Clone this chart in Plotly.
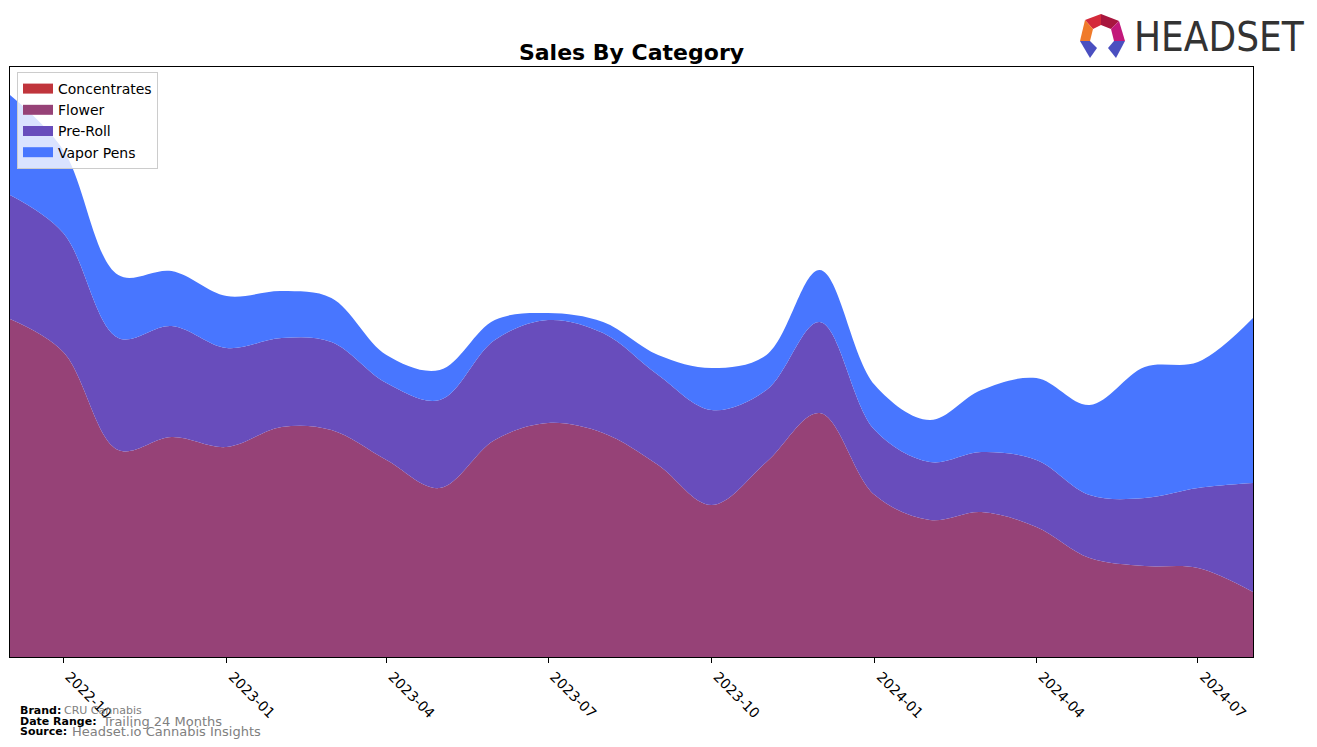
import plotly.graph_objects as go

months = ["2022-09-01", "2022-10-01", "2022-11-01", "2022-12-01", "2023-01-01", "2023-02-01",
          "2023-03-01", "2023-04-01", "2023-05-01", "2023-06-01", "2023-07-01", "2023-08-01",
          "2023-09-01", "2023-10-01", "2023-11-01", "2023-12-01", "2024-01-01", "2024-02-01",
          "2024-03-01", "2024-04-01", "2024-05-01", "2024-06-01", "2024-07-01", "2024-08-01"]

concentrates = [0] * 24
flower = [338, 305, 207, 220, 210, 230, 227, 197, 169, 217, 234, 224,
          192, 152, 195, 244, 162, 137, 145, 130, 99, 91, 89, 65]
pre_roll = [124, 119, 112, 111, 99, 89, 88, 77, 88, 100, 103, 100,
            90, 95, 72, 91, 65, 58, 60, 67, 63, 68, 80, 109]
vapor_pens = [100, 83, 63, 55, 52, 47, 44, 28, 30, 20, 7, 11,
              20, 42, 35, 52, 45, 42, 62, 82, 90, 131, 126, 165]

tick_vals = ["2022-10-01", "2023-01-01", "2023-04-01", "2023-07-01",
             "2023-10-01", "2024-01-01", "2024-04-01", "2024-07-01"]
tick_text = ["2022-10", "2023-01", "2023-04", "2023-07",
             "2023-10", "2024-01", "2024-04", "2024-07"]

series = [("Concentrates", concentrates, "#c0353c"),
          ("Flower", flower, "#964277"),
          ("Pre-Roll", pre_roll, "#684dbc"),
          ("Vapor Pens", vapor_pens, "#4876ff")]

W, H = 1317, 747
L, R, T, B = 10, 1253, 67, 657

fig = go.Figure()
for name, vals, col in series:
    fig.add_trace(go.Scatter(
        x=months, y=vals, name=name, mode="lines", stackgroup="one",
        line=dict(width=0, shape="spline", smoothing=1.0, color=col),
        fillcolor=col, showlegend=False, legendgroup=name,
        hoverinfo="x+y+name"))
# legend swatches
for name, vals, col in series:
    fig.add_trace(go.Scatter(
        x=[None], y=[None], name=name, mode="lines", legendgroup=name,
        line=dict(width=10, color=col), showlegend=True, hoverinfo="skip"))

totals = [a + b + c + d for a, b, c, d in zip(concentrates, flower, pre_roll, vapor_pens)]
ymax = max(totals) * 1.05


def px(x, y):
    return (x - L) / (R - L), (B - y) / (B - T)


fig.update_layout(
    width=W, height=H,
    margin=dict(l=L, r=W - R, t=T, b=H - B),
    paper_bgcolor="white", plot_bgcolor="white",
    font=dict(family="DejaVu Sans", color="black"),
    title=dict(text="<b>Sales By Category</b>", x=(L + R) / 2 / W, xanchor="center",
               y=1 - 52 / H, yanchor="middle", font=dict(size=22, family="DejaVu Sans")),
    showlegend=True,
    legend=dict(x=px(17, 0)[0], y=px(0, 72)[1], xanchor="left", yanchor="top",
                traceorder="normal", bgcolor="rgba(255,255,255,0.8)",
                bordercolor="#cccccc", borderwidth=1, font=dict(size=14),
                itemwidth=30, tracegroupgap=0),
    xaxis=dict(type="date", range=[months[0], months[-1]], tickvals=tick_vals,
               ticktext=tick_text, tickangle=45, ticks="outside", ticklen=5,
               tickcolor="black", showgrid=False, zeroline=False,
               showline=True, linecolor="black", linewidth=1, mirror=True,
               tickfont=dict(size=14), ticklabelshift=6),
    yaxis=dict(range=[0, ymax], showticklabels=False, ticks="", showgrid=False,
               zeroline=False, showline=True, linecolor="black", linewidth=1, mirror=True),
)

# footer
footer = [("Brand:", "CRU Cannabis", 710, 62, 11),
          ("Date Range:", "Trailing 24 Months", 721, 100, 13),
          ("Source:", "Headset.io Cannabis Insights", 731, 70, 13)]
for lab, val, yy, vx, vs in footer:
    x0, y0 = px(18, yy)
    fig.add_annotation(text="<b>" + lab + "</b>", x=x0, y=y0, xref="paper", yref="paper",
                       xanchor="left", yanchor="middle", showarrow=False,
                       font=dict(size=11, color="black", family="DejaVu Sans"))
    x1, _ = px(vx, yy)
    fig.add_annotation(text=val, x=x1, y=y0, xref="paper", yref="paper",
                       xanchor="left", yanchor="middle", showarrow=False,
                       font=dict(size=vs, color="#808080", family="DejaVu Sans"))

# logo text
lx, ly = px(1132, 37)
fig.add_annotation(text="HEADSET", x=lx, y=ly, xref="paper", yref="paper",
                   xanchor="left", yanchor="middle", showarrow=False,
                   font=dict(size=40, color="#333333",
                             family="Liberation Sans Narrow, DejaVu Sans Condensed, sans-serif"))

# logo icon
pieces = [
    ([(1085, 20), (1101, 14), (1101, 25), (1093, 29)], "#d42a3a"),
    ([(1101, 14), (1119, 21), (1111, 29), (1101, 25)], "#a8163e"),
    ([(1119, 21), (1125, 41), (1114, 41), (1111, 29)], "#c2187a"),
    ([(1085, 20), (1093, 29), (1090, 41), (1080, 41)], "#f07a2a"),
    ([(1080, 41), (1090, 41), (1097, 48), (1090, 58)], "#4a4fc0"),
    ([(1114, 41), (1125, 41), (1116, 58), (1108, 48)], "#4a4fc0"),
]
for pts, col in pieces:
    path = ""
    for i, (a, b) in enumerate(pts):
        u, v = px(a, b)
        path += ("M" if i == 0 else "L") + f"{u:.5f},{v:.5f} "
    path += "Z"
    fig.add_shape(type="path", path=path, xref="paper", yref="paper",
                  fillcolor=col, line=dict(width=0), layer="above")

fig.write_html("out.html")
